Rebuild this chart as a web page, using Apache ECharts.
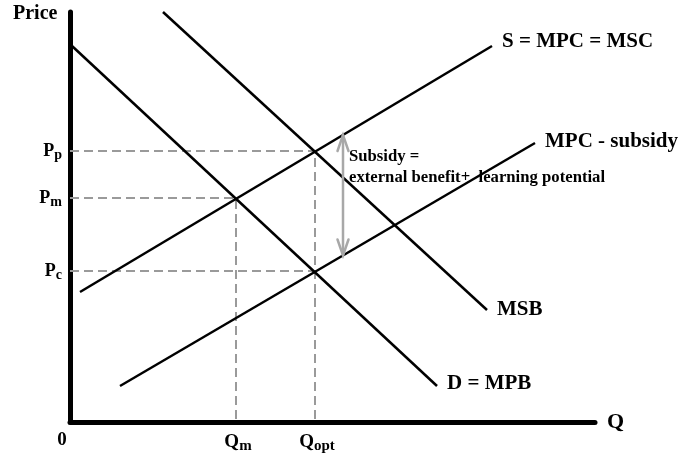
<!DOCTYPE html>
<html>
<head>
<meta charset="utf-8">
<script src="https://cdn.jsdelivr.net/npm/echarts@6/dist/echarts.min.js"></script>
<style>html,body{margin:0;padding:0;background:#fff;}#c{width:680px;height:455px;}</style>
</head>
<body>
<div id="c"></div>
<script>
// ---- data ----
const xMax = 105;
const yMax = 82;
const demand = [[0.4, 75.2], [73.4, 7.2]];        // D = MPB
const msb = [[18.6, 82.0], [83.4, 22.4]];          // MSB
const supply = [[2, 26], [84.4, 75.2]];            // S = MPC = MSC
const mpcSubsidy = [[10, 7.2], [93, 55.8]];        // MPC - subsidy
const Qm = 33.2, Qopt = 49;
const Pc = 30.2, Pm = 44.8, Pp = 54.2;
const priceTicks = [Pc, Pm, Pp];
const priceTickLabels = ['c', 'm', 'p'];
const qtyTicks = [0, Qm, Qopt];
const qtyTickLabels = ['0', 'm', 'opt'];
const subsidyArrow = [54.6, 33.3, 57.4];            // x, bottom price, top price
const curveNames = ['D = MPB', 'MSB', 'S = MPC = MSC', 'MPC - subsidy'];

const FONT = '"Liberation Serif","Times New Roman",serif';
const chart = echarts.init(document.getElementById('c'), null, {renderer: 'canvas'});

function curve(name, data, offset) {
  return {
    type: 'line', name: name, data: data, symbol: 'none', silent: true,
    lineStyle: {color: '#000', width: 2.5},
    endLabel: {show: true, formatter: name, distance: 10, offset: offset,
      color: '#000', fontFamily: FONT, fontWeight: 'bold', fontSize: 21},
    z: 3
  };
}
function dashed(data) {
  return {type: 'line', data: data, symbol: 'none', silent: true,
    lineStyle: {color: '#9a9a9a', width: 2, type: [9, 5]}, z: 2};
}

chart.setOption({
  animation: false,
  grid: {left: 70, right: 85, top: 12, bottom: 33, containLabel: false},
  xAxis: {
    type: 'value', min: 0, max: xMax, splitLine: {show: false},
    axisLine: {show: true, lineStyle: {color: '#000', width: 5, cap: 'round'}},
    axisTick: {show: false},
    name: 'Q', nameLocation: 'end', nameGap: 12,
    nameTextStyle: {color: '#000', fontFamily: FONT, fontWeight: 'bold', fontSize: 22, verticalAlign: 'middle'},
    axisLabel: {
      customValues: qtyTicks, margin: 9,
      formatter: function (v) {
        const i = qtyTicks.indexOf(v);
        if (i === 0) return '{z|0}';
        return '{b|Q}{s|' + qtyTickLabels[i] + '}';
      },
      rich: {
        z: {fontFamily: FONT, fontWeight: 'bold', fontSize: 19, color: '#000', padding: [0, 16, 0, 0]},
        b: {fontFamily: FONT, fontWeight: 'bold', fontSize: 19, color: '#000', padding: [0, 0, 0, 4]},
        s: {fontFamily: FONT, fontWeight: 'bold', fontSize: 15, color: '#000', padding: [8, 0, 0, 0]}
      }
    }
  },
  yAxis: {
    type: 'value', min: 0, max: yMax, splitLine: {show: false},
    axisLine: {show: true, lineStyle: {color: '#000', width: 5, cap: 'round'}},
    axisTick: {show: false},
    axisLabel: {
      customValues: priceTicks, margin: 8,
      formatter: function (v) {
        const i = priceTicks.indexOf(v);
        return '{b|P}{s|' + priceTickLabels[i] + '}';
      },
      rich: {
        b: {fontFamily: FONT, fontWeight: 'bold', fontSize: 18, color: '#000'},
        s: {fontFamily: FONT, fontWeight: 'bold', fontSize: 14, color: '#000', padding: [8, 0, 0, 0]}
      }
    }
  },
  graphic: [
    {type: 'text', left: 13, top: 4, silent: true,
      style: {text: 'Price', fill: '#000', font: 'bold 20px ' + FONT}},
    {type: 'text', left: 349, top: 148, silent: true,
      style: {text: 'Subsidy =', fill: '#000', font: 'bold 16.7px ' + FONT}},
    {type: 'text', left: 349, top: 169, silent: true,
      style: {text: 'external benefit+  learning potential', fill: '#000', font: 'bold 16.7px ' + FONT}}
  ],
  series: [
    dashed([[0, Pp], [Qopt, Pp], [Qopt, 0]]),
    dashed([[0, Pm], [Qm, Pm], [Qm, 0]]),
    dashed([[0, Pc], [Qopt, Pc]]),
    curve(curveNames[0], demand, [0, -2]),
    curve(curveNames[1], msb, [0, 0]),
    curve(curveNames[2], supply, [0, -4]),
    curve(curveNames[3], mpcSubsidy, [0, -1]),
    {
      type: 'custom', silent: true, z: 4,
      data: [subsidyArrow],
      encode: {x: 0, y: [1, 2]},
      renderItem: function (params, api) {
        const b = api.coord([api.value(0), api.value(1)]);
        const t = api.coord([api.value(0), api.value(2)]);
        const st = {stroke: '#a8a8a8', lineWidth: 2.5, fill: 'none', lineCap: 'round', lineJoin: 'miter'};
        const hw = 5.5, hl = 16;
        return {
          type: 'group',
          children: [
            {type: 'line', shape: {x1: b[0], y1: b[1], x2: t[0], y2: t[1]}, style: st},
            {type: 'polyline', shape: {points: [[t[0] - hw, t[1] + hl], [t[0], t[1]], [t[0] + hw, t[1] + hl]]}, style: st},
            {type: 'polyline', shape: {points: [[b[0] - hw, b[1] - hl], [b[0], b[1]], [b[0] + hw, b[1] - hl]]}, style: st}
          ]
        };
      }
    }
  ]
});
</script>
</body>
</html>
